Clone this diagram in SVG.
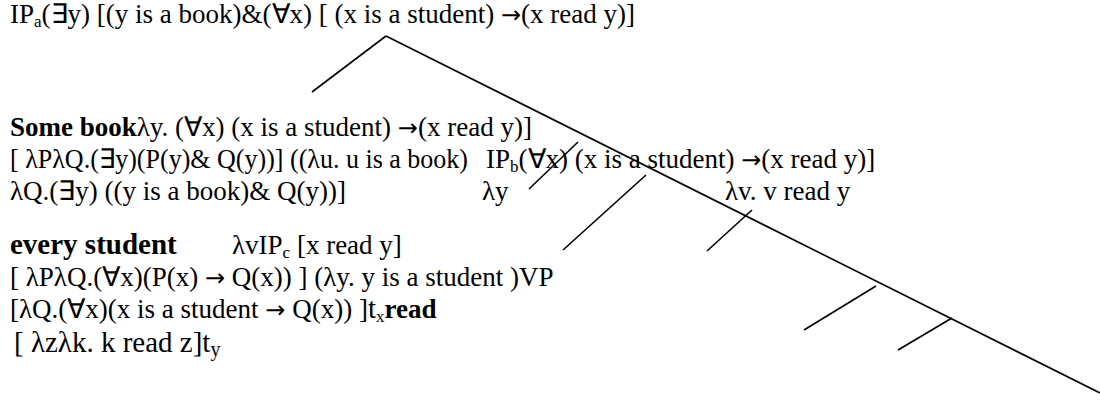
<svg xmlns="http://www.w3.org/2000/svg" width="1100" height="418" viewBox="0 0 1100 418">
<style>
text{font-family:"Liberation Serif","Times New Roman",serif;font-size:27px;fill:#000}
.b{font-weight:bold}
.big{font-size:29px}
.sub{font-size:17px}
.ar{font-family:"DejaVu Sans",sans-serif;font-size:24px}
line{stroke:#000;stroke-width:1.6;fill:none}
</style>
<rect width="1100" height="418" fill="#fff"/>
<g id="connectors">
<line x1="386" y1="36" x2="1100" y2="393"/>
<line x1="386" y1="36" x2="312" y2="92"/>
<line x1="578" y1="142" x2="529" y2="189"/>
<line x1="646" y1="175" x2="563" y2="250"/>
<line x1="752" y1="210" x2="707" y2="251"/>
<line x1="876" y1="286" x2="804" y2="330"/>
<line x1="952" y1="318" x2="898" y2="350"/>
</g>
<g id="n1"><text x="10" y="23">IP<tspan class="sub" dy="4">a</tspan><tspan dy="-4">(∃y) [(y is a book)&amp;(∀x) [ (x is a student) </tspan><tspan class="ar">→</tspan>(x read y)]</text></g>
<g id="n2"><text x="10" y="136"><tspan class="b">Some book</tspan>λy. (∀x) (x is a student) <tspan class="ar">→</tspan>(x read y)]</text></g>
<g id="n3"><text x="10" y="168" textLength="458" lengthAdjust="spacingAndGlyphs">[ λPλQ.(∃y)(P(y)&amp; Q(y))] ((λu. u is a book)</text></g>
<g id="n4"><text x="486" y="168">IP<tspan class="sub" dy="4">b</tspan><tspan dy="-4">(∀x) (x is a student) </tspan><tspan class="ar">→</tspan>(x read y)]</text></g>
<g id="n5"><text x="10" y="200">λQ.(∃y) ((y is a book)&amp; Q(y))]</text></g>
<g id="n6"><text x="482" y="200">λy</text></g>
<g id="n7"><text x="725" y="200">λv. v read y</text></g>
<g id="n8"><text x="10" y="254" class="b big">every student</text></g>
<g id="n9"><text x="232" y="254">λvIP<tspan class="sub" dy="4">c</tspan><tspan dy="-4">  [x read y]</tspan></text></g>
<g id="n10"><text x="10" y="286">[ λPλQ.(∀x)(P(x) <tspan class="ar">→</tspan> Q(x)) ] (λy. y is a student )VP</text></g>
<g id="n11"><text x="10" y="318">[λQ.(∀x)(x is a student <tspan class="ar">→</tspan> Q(x)) ]<tspan class="big">t</tspan><tspan class="sub" dy="4">x</tspan><tspan class="b" dy="-4">read</tspan></text></g>
<g id="n12"><text x="14" y="352" class="big">[ λzλk. k read z]t<tspan class="sub" dy="4" style="font-size:20px">y</tspan></text></g>
</svg>
